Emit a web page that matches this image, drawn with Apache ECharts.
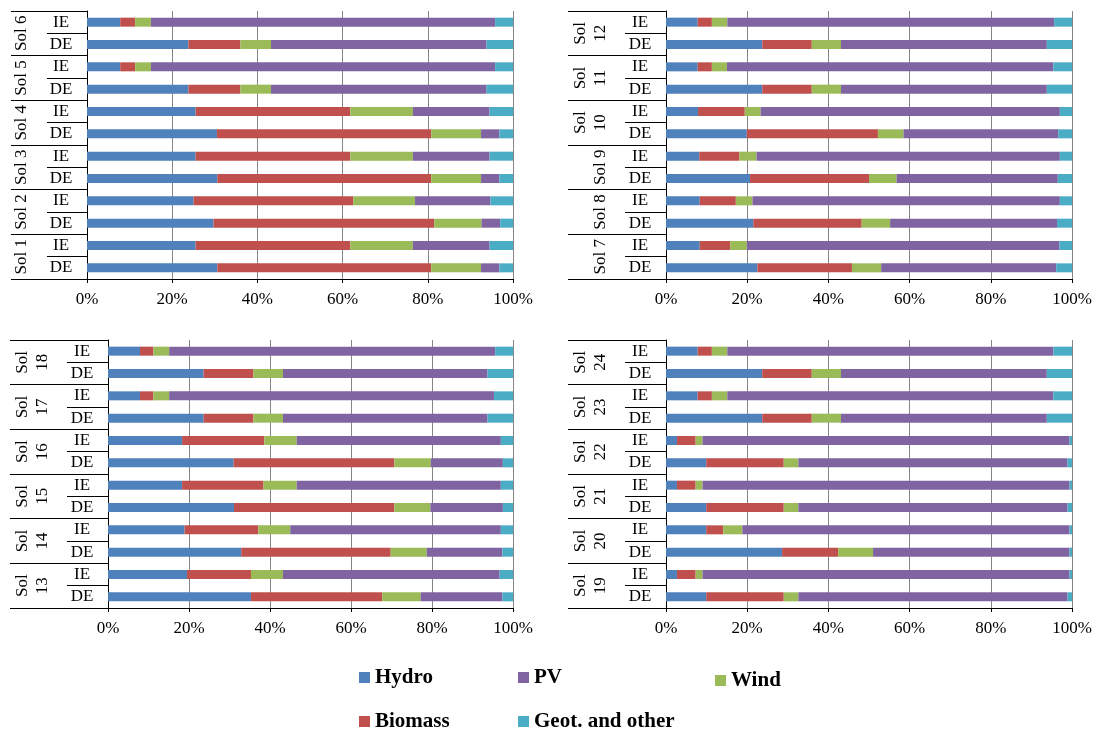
<!DOCTYPE html>
<html>
<head>
<meta charset="utf-8">
<script src="https://cdn.jsdelivr.net/npm/echarts@6/dist/echarts.min.js"></script>
<style>html,body{margin:0;padding:0;background:#fff}#c{width:1096px;height:731px}</style>
</head>
<body>
<div id="c"></div>
<script>
// Row labels (top to bottom)
const rowLabels = ['IE','DE','IE','DE','IE','DE','IE','DE','IE','DE','IE','DE'];
const solA = ['Sol 6','Sol 5','Sol 4','Sol 3','Sol 2','Sol 1'];
const solB = ['Sol\n12','Sol\n11','Sol\n10','Sol 9','Sol 8','Sol 7'];
const solC = ['Sol\n18','Sol\n17','Sol\n16','Sol\n15','Sol\n14','Sol\n13'];
const solD = ['Sol\n24','Sol\n23','Sol\n22','Sol\n21','Sol\n20','Sol\n19'];
const tickValues = [0, 20, 40, 60, 80, 100];
const seriesNames = ['Hydro','Biomass','Wind','PV','Geot. and other'];

// Panel A: Sol 6 .. Sol 1 (shares, %)
const hydroA   = [7.8, 23.8, 7.8, 23.8, 25.5, 30.5, 25.5, 30.6, 25.0, 29.7, 25.5, 30.6];
const biomassA = [3.5, 12.2, 3.5, 12.2, 36.3, 50.3, 36.3, 50.2, 37.5, 51.8, 36.3, 50.2];
const windA    = [3.7, 7.2, 3.7, 7.2, 14.7, 11.7, 14.7, 11.7, 14.5, 11.1, 14.7, 11.7];
const pvA      = [80.8, 50.6, 80.8, 50.6, 18.0, 4.3, 18.0, 4.3, 17.7, 4.4, 18.0, 4.3];
const geotA    = [4.2, 6.2, 4.2, 6.2, 5.5, 3.2, 5.5, 3.2, 5.3, 3.0, 5.5, 3.2];

// Panel B: Sol 12 .. Sol 7
const hydroB   = [7.8, 23.7, 7.8, 23.7, 7.9, 19.9, 8.2, 20.7, 8.3, 21.5, 8.3, 22.5];
const biomassB = [3.5, 12.2, 3.5, 12.2, 11.5, 32.3, 9.9, 29.3, 8.9, 26.7, 7.5, 23.3];
const windB    = [3.8, 7.2, 3.7, 7.2, 3.9, 6.3, 4.2, 6.8, 4.1, 7.0, 4.1, 7.2];
const pvB      = [80.5, 50.7, 80.4, 50.7, 73.7, 38.1, 74.7, 39.7, 75.7, 41.1, 77.0, 43.1];
const geotB    = [4.4, 6.2, 4.6, 6.2, 3.0, 3.4, 3.0, 3.5, 3.0, 3.7, 3.1, 3.9];

// Panel C: Sol 18 .. Sol 13
const hydroC   = [7.9, 23.6, 7.9, 23.6, 18.3, 31.0, 18.3, 31.1, 18.9, 32.9, 19.5, 35.3];
const biomassC = [3.3, 12.3, 3.3, 12.3, 20.3, 39.7, 20.1, 39.6, 18.2, 36.9, 15.8, 32.4];
const windC    = [3.9, 7.3, 3.9, 7.3, 8.0, 9.0, 8.2, 8.9, 7.9, 8.9, 7.9, 9.5];
const pvC      = [80.5, 50.5, 80.2, 50.5, 50.4, 17.8, 50.4, 17.9, 52.0, 18.7, 53.5, 20.2];
const geotC    = [4.4, 6.3, 4.7, 6.3, 3.0, 2.5, 3.0, 2.5, 3.0, 2.6, 3.3, 2.6];

// Panel D: Sol 24 .. Sol 19
const hydroD   = [7.8, 23.7, 7.8, 23.7, 2.7, 9.9, 2.7, 9.9, 9.9, 28.6, 2.7, 9.9];
const biomassD = [3.5, 12.2, 3.5, 12.2, 4.6, 19.1, 4.6, 19.1, 4.2, 13.8, 4.6, 19.1];
const windD    = [3.8, 7.2, 3.8, 7.2, 1.7, 3.6, 1.7, 3.6, 4.7, 8.6, 1.7, 3.6];
const pvD      = [80.3, 50.7, 80.3, 50.7, 90.4, 66.3, 90.4, 66.3, 80.6, 48.4, 90.4, 66.3];
const geotD    = [4.6, 6.2, 4.6, 6.2, 0.6, 1.1, 0.6, 1.1, 0.6, 0.6, 0.6, 1.1];

const colors = ['#4F81BD','#C0504D','#9BBB59','#8064A2','#4BACC6'];
const FONT = "'Liberation Serif','Times New Roman',serif";

const panels = [
  {sol: solA, data: [hydroA, biomassA, windA, pvA, geotA], left: 87, top: 11, width: 426, labelStart: 11, innerStart: 47},
  {sol: solB, data: [hydroB, biomassB, windB, pvB, geotB], left: 666, top: 11, width: 406, labelStart: 568, innerStart: 625},
  {sol: solC, data: [hydroC, biomassC, windC, pvC, geotC], left: 108, top: 340, width: 405, labelStart: 10, innerStart: 67},
  {sol: solD, data: [hydroD, biomassD, windD, pvD, geotD], left: 666, top: 340, width: 406, labelStart: 568, innerStart: 625}
];

const grid = [], xAxis = [], yAxis = [], series = [];
panels.forEach((p, i) => {
  grid.push({left: p.left, top: p.top, width: p.width, height: 268, containLabel: false});
  xAxis.push({
    type: 'value', gridIndex: i, min: 0, max: 100, interval: 20,
    axisLine: {show: true, lineStyle: {color: '#000', width: 1}},
    axisTick: {show: true, length: 4, lineStyle: {color: '#000'}},
    splitLine: {show: true, lineStyle: {color: '#868686', width: 1}},
    axisLabel: {formatter: '{value}%', color: '#000', fontFamily: FONT, fontSize: 17, margin: 12}
  });
  // inner axis: IE / DE
  yAxis.push({
    type: 'category', gridIndex: i, inverse: true, data: rowLabels,
    axisLine: {show: true, lineStyle: {color: '#000', width: 1}},
    axisTick: {show: true, interval: 0, length: p.left - p.innerStart, lineStyle: {color: '#000'}},
    axisLabel: {interval: 0, color: '#000', fontFamily: FONT, fontSize: 17, align: 'center', margin: 26}
  });
  // outer axis: Sol groups
  yAxis.push({
    type: 'category', gridIndex: i, inverse: true, data: p.sol, position: 'left',
    axisLine: {show: false},
    axisTick: {show: true, interval: 0, length: p.left - p.labelStart, lineStyle: {color: '#000'}},
    axisLabel: {interval: 0, rotate: 90, color: '#000', fontFamily: FONT, fontSize: 17, lineHeight: 20, margin: 55}
  });
  p.data.forEach((arr, k) => {
    series.push({
      name: seriesNames[k], type: 'bar', stack: 'p' + i,
      xAxisIndex: i, yAxisIndex: i * 2,
      barWidth: 9, data: arr,
      itemStyle: {color: colors[k]},
      silent: true
    });
  });
});

const legendBase = {
  icon: 'rect', itemWidth: 11, itemHeight: 11, itemGap: 10, orient: 'horizontal', padding: 0,
  textStyle: {fontFamily: FONT, fontSize: 21, fontWeight: 'bold', color: '#000'},
  selectedMode: false
};
const legend = [
  Object.assign({}, legendBase, {data: ['Hydro'], left: 359, top: 667}),
  Object.assign({}, legendBase, {data: ['PV'], left: 518, top: 667}),
  Object.assign({}, legendBase, {data: ['Wind'], left: 715, top: 670}),
  Object.assign({}, legendBase, {data: ['Biomass'], left: 359, top: 711}),
  Object.assign({}, legendBase, {data: ['Geot. and other'], left: 518, top: 711})
];

const chart = echarts.init(document.getElementById('c'), null, {renderer: 'canvas'});
chart.setOption({
  backgroundColor: '#fff',
  animation: false,
  color: colors,
  grid, xAxis, yAxis, series, legend
});
</script>
</body>
</html>
